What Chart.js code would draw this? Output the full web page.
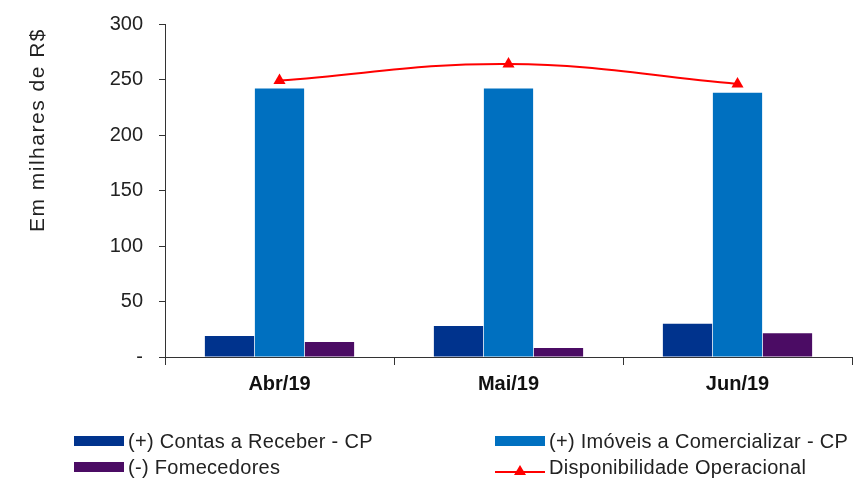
<!DOCTYPE html>
<html>
<head>
<meta charset="utf-8">
<script src="https://cdn.jsdelivr.net/npm/chart.js@4"></script>
<style>
  html, body { margin: 0; padding: 0; background: #fff; }
  #wrap { position: relative; width: 859px; height: 479px; }
  #legend { position: absolute; left: 0; top: 0; width: 859px; height: 479px; pointer-events: none;
            font-family: "Liberation Sans", Arial, sans-serif; font-size: 20px; letter-spacing: 0.3px; color: #222; }
  .item { position: absolute; display: flex; align-items: center; white-space: nowrap; height: 24px; }
  .sw { width: 50px; height: 10px; margin-right: 4px; }
  .ln { width: 50px; height: 14px; margin-right: 4px; position: relative; }
</style>
</head>
<body>
<div id="wrap">
  <canvas id="c" width="859" height="479"></canvas>
  <div id="legend"></div>
</div>
<script>
const categories = ["Abr/19", "Mai/19", "Jun/19"];
const contasReceber = [19, 28, 30];
const imoveisComercializar = [242, 242, 238];
const fornecedores = [13.5, 8, 21.5];
const disponibilidade = [249, 264, 246];
const yTicks = [0, 50, 100, 150, 200, 250, 300];
const yTitle = 'Em milhares de R$';
const seriesNames = ["(+) Contas a Receber - CP", "(+) Imóveis a Comercializar - CP", "(-) Fomecedores", "Disponibilidade Operacional"];
const colors = ["#00338D", "#0070C0", "#4B0C64", "#FF0000"];
const FONT = '"Liberation Sans", Arial, sans-serif';

// y-axis title drawn with letter spacing (to match the wide original lettering)
const yTitlePlugin = {
  id: 'yTitlePlugin',
  afterDraw(chart) {
    const c = chart.ctx;
    const top = chart.chartArea.top;
    c.save();
    c.font = '21px ' + FONT;
    c.fillStyle = '#222';
    if ('letterSpacing' in c) c.letterSpacing = '1.5px';
    c.translate(38, top + 4);
    c.rotate(-Math.PI / 2);
    c.textAlign = 'right';
    c.textBaseline = 'middle';
    c.fillText(yTitle, 0, 0);
    c.restore();
  }
};

const ctx = document.getElementById('c');
const chart = new Chart(ctx, {
  data: {
    labels: categories,
    datasets: [
      { type: 'line', label: seriesNames[3], data: disponibilidade, borderColor: colors[3], backgroundColor: colors[3],
        borderWidth: 2, tension: 0.4, pointStyle: 'triangle', pointRadius: 7, pointBorderWidth: 0, order: 0 },
      { type: 'bar', label: seriesNames[0], data: contasReceber, backgroundColor: colors[0], order: 1,
        categoryPercentage: 0.655, barPercentage: 0.985 },
      { type: 'bar', label: seriesNames[1], data: imoveisComercializar, backgroundColor: colors[1], order: 1,
        categoryPercentage: 0.655, barPercentage: 0.985 },
      { type: 'bar', label: seriesNames[2], data: fornecedores, backgroundColor: colors[2], order: 1,
        categoryPercentage: 0.655, barPercentage: 0.985 }
    ]
  },
  plugins: [yTitlePlugin],
  options: {
    responsive: false,
    animation: false,
    layout: { padding: { top: 8, right: 7, left: 0, bottom: 0 } },
    plugins: { legend: { display: false }, tooltip: { enabled: false } },
    scales: {
      x: {
        offset: true,
        grid: { offset: true, drawOnChartArea: false, drawTicks: true, tickLength: 8, color: '#333', lineWidth: 1 },
        border: { display: true, color: '#333', width: 1 },
        ticks: { color: '#111', font: { family: FONT, size: 20, weight: 'bold' }, padding: 7 },
        afterFit: s => { s.height = 122; }
      },
      y: {
        min: 0, max: 300,
        afterBuildTicks: s => { s.ticks = yTicks.map(v => ({ value: v })); },
        grid: { drawOnChartArea: false, drawTicks: true, tickLength: 6, color: '#333' },
        border: { display: true, color: '#333', width: 1 },
        ticks: { color: '#222', font: { family: FONT, size: 20, lineHeight: 0.8 }, padding: 16,
                 callback: v => v === 0 ? '-' : v },
        afterFit: s => { s.width = 165; }
      }
    }
  }
});

// HTML legend built from dataset names/colors
const legendPos = [
  { i: 0, left: 74, top: 429 },
  { i: 1, left: 495, top: 429 },
  { i: 2, left: 74, top: 455 },
  { i: 3, left: 495, top: 455 }
];
const lg = document.getElementById('legend');
legendPos.forEach(p => {
  const d = document.createElement('div');
  d.className = 'item';
  d.style.left = p.left + 'px';
  d.style.top = p.top + 'px';
  let mark;
  if (p.i === 3) {
    mark = '<span class="ln"><svg width="50" height="14"><line x1="0" y1="8" x2="50" y2="8" stroke="' + colors[3] + '" stroke-width="2"/><polygon points="25,1 31,11 19,11" fill="' + colors[3] + '"/></svg></span>';
  } else {
    mark = '<span class="sw" style="background:' + colors[p.i] + '"></span>';
  }
  d.innerHTML = mark + '<span>' + seriesNames[p.i] + '</span>';
  lg.appendChild(d);
});
</script>
</body>
</html>
